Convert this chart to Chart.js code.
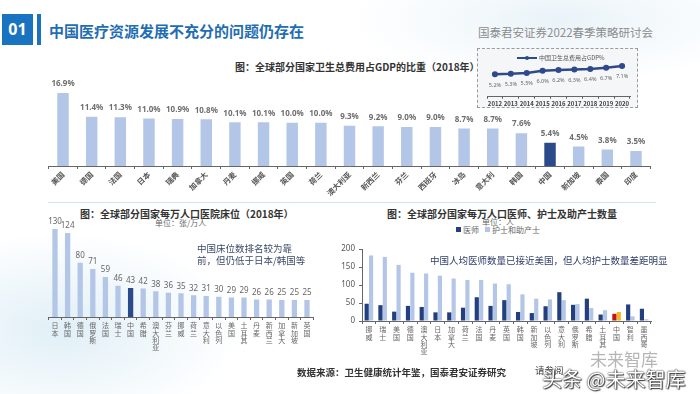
<!DOCTYPE html>
<html>
<head>
<meta charset="utf-8">
<script src="https://cdn.jsdelivr.net/npm/chart.js@4"></script>
<style>
  html, body { margin: 0; padding: 0; }
  body {
    width: 700px; height: 394px; position: relative; overflow: hidden;
    font-family: "Noto Sans CJK SC", "Noto Sans", sans-serif;
    background:
      radial-gradient(ellipse 260px 140px at 60px 330px, rgba(214,234,244,0.75), rgba(255,255,255,0) 70%),
      radial-gradient(ellipse 300px 90px at 560px 20px, rgba(225,238,246,0.7), rgba(255,255,255,0) 70%),
      #ffffff;
  }
  .abs { position: absolute; white-space: nowrap; }
  canvas { position: absolute; }
</style>
</head>
<body>
<!-- header -->
<div class="abs" style="left:2px;top:14px;width:31px;height:31px;background:#1a73c0;color:#fff;font:bold 16px 'Noto Sans';line-height:31px;text-align:center;">01</div>
<div class="abs" style="left:37px;top:14px;width:4px;height:31px;background:#1a73c0;"></div>
<div class="abs" style="left:49px;top:20px;font-size:15px;font-weight:bold;color:#1f6db3;">中国医疗资源发展不充分的问题仍存在</div>
<div class="abs" style="left:478px;top:24px;font-size:11.5px;color:#8c8c8c;">国泰君安证券2022春季策略研讨会</div>

<!-- top chart -->
<div class="abs" style="left:235px;top:59px;font-size:10px;font-weight:bold;color:#333;">图：全球部分国家卫生总费用占GDP的比重（2018年）</div>
<canvas id="chartSpend" style="left:40px;top:60px;" width="620" height="140"></canvas>

<!-- inset -->
<div class="abs" style="left:477px;top:48px;width:159px;height:58px;border:1px dashed #9a9a9a;background:rgba(244,245,247,0.95);"></div>
<div class="abs" style="left:517px;top:57px;width:20px;height:2px;background:#2f4a8a;"></div>
<div class="abs" style="left:525px;top:56px;width:4px;height:4px;border-radius:2px;background:#2f4a8a;"></div>
<div class="abs" style="left:539px;top:53px;font-size:6px;color:#555;">中国卫生总费用占GDP%</div>
<canvas id="chartInset" style="left:478px;top:49px;" width="160" height="58"></canvas>

<div class="abs" style="left:48px;top:202px;width:608px;height:1px;background:#cde4ea;"></div>

<!-- bottom left -->
<div class="abs" style="left:80px;top:206px;font-size:10px;font-weight:bold;color:#333;">图：全球部分国家每万人口医院床位（2018年）</div>
<div class="abs" style="left:155px;top:217px;font-size:8px;color:#666;">单位：张/万人</div>
<canvas id="chartBeds" style="left:30px;top:205px;" width="300" height="165"></canvas>
<div class="abs" style="left:197px;top:242px;font-size:9.5px;line-height:12px;color:#3c4a66;">中国床位数排名较为靠<br>前，但仍低于日本/韩国等</div>

<!-- bottom right -->
<div class="abs" style="left:387px;top:206px;font-size:10px;font-weight:bold;color:#333;">图：全球部分国家每万人口医师、护士及助产士数量</div>
<div class="abs" style="left:482px;top:216px;font-size:8px;color:#666;">单位：人</div>
<div class="abs" style="left:456px;top:227px;width:5px;height:5px;background:#233f7f;"></div>
<div class="abs" style="left:463px;top:224px;font-size:8px;color:#666;">医师</div>
<div class="abs" style="left:485px;top:227px;width:5px;height:5px;background:#b4c6e7;"></div>
<div class="abs" style="left:492px;top:224px;font-size:8px;color:#666;">护士和助产士</div>
<canvas id="chartStaff" style="left:330px;top:205px;" width="330" height="165"></canvas>
<div class="abs" style="left:430px;top:253px;font-size:9.5px;color:#2f3d66;">中国人均医师数量已接近美国，但人均护士数量差距明显</div>

<!-- footer -->
<div class="abs" style="left:297px;top:365px;font-size:9.5px;font-weight:bold;color:#333;">数据来源：卫生健康统计年鉴，国泰君安证券研究</div>
<div class="abs" style="left:535px;top:363px;font-size:9.5px;color:#444;">请参阅</div>
<div class="abs" style="left:590px;top:346px;font-size:17px;color:rgba(120,120,120,0.55);">未来智库</div>
<div class="abs" style="left:542px;top:364px;font-size:20px;color:#fff;text-shadow:0 0 2px #333,0 0 1px #222,1px 1px 1px #444;">头条 @未来智库</div>

<script>
// top: health spending as % of GDP, 2018
const spendCountries = ["美国","德国","法国","日本","瑞典","加拿大","丹麦","挪威","英国","荷兰","澳大利亚","新西兰","芬兰","西班牙","冰岛","意大利","韩国","中国","新加坡","泰国","印度"];
const spendValues = [16.9, 11.4, 11.3, 11.0, 10.9, 10.8, 10.1, 10.1, 10.0, 10.0, 9.3, 9.2, 9.0, 9.0, 8.7, 8.7, 7.6, 5.4, 4.5, 3.8, 3.5];

// inset: China health spending % of GDP
const insetYears = ["2012","2013","2014","2015","2016","2017","2018","2019","2020"];
const insetValues = [5.2, 5.3, 5.5, 6.0, 6.2, 6.3, 6.4, 6.7, 7.1];

// bottom left: hospital beds per 10k, 2018
const bedCountries = ["日本","韩国","德国","俄罗斯","法国","瑞士","中国","希腊","澳大利亚","芬兰","挪威","荷兰","意大利","以色列","美国","土耳其","丹麦","新西兰","加拿大","新加坡","英国"];
const bedValues = [130, 124, 80, 71, 59, 46, 43, 42, 38, 36, 35, 32, 31, 30, 29, 29, 26, 26, 25, 25, 25];

// bottom right: doctors / nurses per 10k
const staffCountries = ["挪威","瑞士","美国","德国","澳大利亚","日本","加拿大","荷兰","法国","丹麦","英国","韩国","新加坡","以色列","意大利","俄罗斯","希腊","土耳其","中国","智利","墨西哥"];
const doctorValues = [48, 44, 26, 42, 39, 24, 24, 37, 66, 42, 58, 25, 22, 41, 80, 45, 62, 18, 20, 46, 34];
const nurseValues = [182, 178, 156, 134, 132, 126, 118, 114, 114, 104, 102, 74, 62, 60, 58, 47, 36, 30, 25, 13, 5];
const staffTicks = [0, 50, 100, 150, 200];

const LIGHT = "#b4c6e7";
const DARK = "#2b4a8b";
const CJK = '"Noto Sans CJK SC", "Noto Sans", sans-serif';

Chart.defaults.animation = false;
Chart.defaults.font.family = CJK;
Chart.defaults.plugins.legend.display = false;
Chart.defaults.plugins.tooltip.enabled = false;

function valueLabels(format, font, color, offset, below) {
  return {
    id: "valueLabels",
    afterDatasetsDraw(chart) {
      const ctx = chart.ctx;
      ctx.save();
      ctx.font = font;
      ctx.fillStyle = color;
      ctx.textAlign = "center";
      ctx.textBaseline = below ? "top" : "bottom";
      const ds = chart.data.datasets[0];
      chart.getDatasetMeta(0).data.forEach((el, i) => {
        ctx.fillText(format(ds.data[i]), el.x, below ? el.y + offset : el.y - offset);
      });
      ctx.restore();
    }
  };
}

function vertical(label) {
  return label.split("");
}

function xAxis(height, tickFont, extra = {}) {
  return Object.assign({
    grid: { display: true, drawOnChartArea: false, drawTicks: true, tickLength: 3, color: "#666" },
    border: { display: true, color: "#666" },
    ticks: { color: "#666", font: tickFont, autoSkip: false, maxRotation: 0, minRotation: 0, padding: 2 },
    afterFit(s) { s.height = height; }
  }, extra);
}

// top chart
new Chart(document.getElementById("chartSpend"), {
  type: "bar",
  data: {
    labels: spendCountries,
    datasets: [{
      data: spendValues,
      backgroundColor: spendCountries.map(c => c === "中国" ? DARK : LIGHT),
      barPercentage: 0.4,
      categoryPercentage: 1
    }]
  },
  options: {
    responsive: false,
    layout: { padding: { top: 19.6, left: 8.7, right: 9.7, bottom: 0 } },
    scales: {
      x: xAxis(34, { size: 7.5, weight: "bold" }, {
        ticks: { color: "#555", font: { size: 7.5, weight: "bold" }, autoSkip: false, maxRotation: 45, minRotation: 45, padding: 1 }
      }),
      y: { display: false, min: 0, max: 20 }
    }
  },
  plugins: [valueLabels(v => v.toFixed(1) + "%", 'bold 8px "Noto Sans"', "#6e6e6e", 5, false)]
});

// inset line
new Chart(document.getElementById("chartInset"), {
  type: "line",
  data: {
    labels: insetYears,
    datasets: [{
      data: insetValues,
      borderColor: "#2f4a8a",
      backgroundColor: "#2f4a8a",
      borderWidth: 2.5,
      pointRadius: 1.8,
      tension: 0
    }]
  },
  options: {
    responsive: false,
    layout: { padding: { top: 11, left: 9, right: 8, bottom: 0 } },
    scales: {
      x: xAxis(10.3, { size: 6, weight: "bold" }, {
        offset: true,
        grid: { display: true, offset: true, drawOnChartArea: false, drawTicks: true, tickLength: 2, color: "#555" },
        ticks: { color: "#444", font: { size: 6, weight: "bold" }, autoSkip: false, maxRotation: 0, minRotation: 0, padding: 1 }
      }),
      y: { display: false, min: 0, max: 8.5 }
    }
  },
  plugins: [valueLabels(v => v.toFixed(1) + "%", '5.5px "Noto Sans"', "#666", 8, true)]
});

// bottom left beds
new Chart(document.getElementById("chartBeds"), {
  type: "bar",
  data: {
    labels: bedCountries.map(vertical),
    datasets: [{
      data: bedValues,
      backgroundColor: bedCountries.map(c => c === "中国" ? DARK : LIGHT),
      barPercentage: 0.42,
      categoryPercentage: 1
    }]
  },
  options: {
    responsive: false,
    layout: { padding: { top: 10.5, left: 18.7, right: 16.7, bottom: 0 } },
    scales: {
      x: xAxis(53, { size: 7, lineHeight: 1.05 }),
      y: { display: false, min: 0, max: 150 }
    }
  },
  plugins: [valueLabels(v => String(v), '8px "Noto Sans"', "#666", 3, false)]
});

// bottom right staff
new Chart(document.getElementById("chartStaff"), {
  type: "bar",
  data: {
    labels: staffCountries.map(vertical),
    datasets: [
      {
        label: "医师",
        data: doctorValues,
        backgroundColor: staffCountries.map(c => c === "中国" ? "#c0161b" : "#233f7f"),
        barPercentage: 0.95,
        categoryPercentage: 0.64
      },
      {
        label: "护士和助产士",
        data: nurseValues,
        backgroundColor: staffCountries.map(c => c === "中国" ? "#f5b81c" : LIGHT),
        barPercentage: 0.95,
        categoryPercentage: 0.64
      }
    ]
  },
  options: {
    responsive: false,
    layout: { padding: { top: 44, left: 0, right: 9, bottom: 0 } },
    scales: {
      x: xAxis(49, { size: 7, lineHeight: 1.05 }),
      y: {
        min: 0,
        max: 200,
        afterBuildTicks(s) { s.ticks = staffTicks.map(v => ({ value: v })); },
        afterFit(s) { s.width = 32; },
        grid: { display: true, drawOnChartArea: false, drawTicks: true, tickLength: 3, color: "#666" },
        border: { display: true, color: "#666" },
        ticks: { color: "#555", font: { size: 8, family: '"Noto Sans"' }, padding: 4 }
      }
    }
  }
});
</script>
</body>
</html>
